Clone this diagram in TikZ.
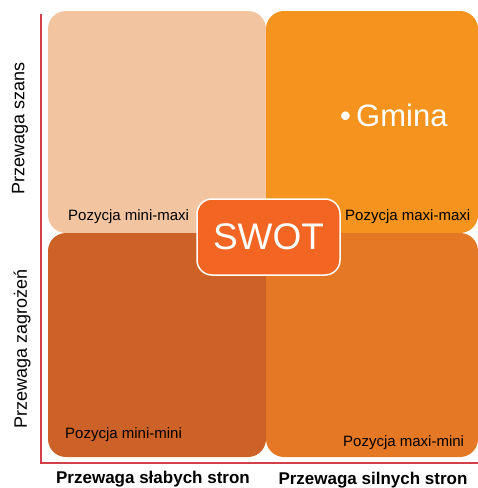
\documentclass[tikz,border=0pt]{standalone}
\usepackage{fontspec}
\setmainfont{Liberation Sans}
\definecolor{qTL}{HTML}{F3C4A0}
\definecolor{qTR}{HTML}{F4941E}
\definecolor{qBL}{HTML}{CC6228}
\definecolor{qBR}{HTML}{E57824}
\definecolor{swotc}{HTML}{F26522}
\definecolor{axisc}{HTML}{D4404A}
\tikzset{
  quad/.style={rectangle, rounded corners=18pt, draw=none, inner sep=0pt},
  poz/.style={inner sep=0pt, font=\fontsize{15}{17}\selectfont, text=black},
  sidelab/.style={inner sep=0pt, font=\fontsize{18}{20}\selectfont, text=black, rotate=90},
  botlab/.style={inner sep=0pt, font=\bfseries\fontsize{17}{19}\selectfont, text=black},
  axisline/.style={draw=axisc, line width=2pt}
}
\begin{document}
\begin{tikzpicture}[x=1pt,y=-1pt]
\useasboundingbox (0,0) rectangle (478,488);
% quadrants
\node[quad, fill=qTL, minimum width=218pt, minimum height=222pt] (tl) at (157,122) {};
\node[quad, fill=qTR, minimum width=212pt, minimum height=222pt] (tr) at (372,122) {};
\node[quad, fill=qBL, minimum width=218pt, minimum height=224pt] (bl) at (157,345) {};
\node[quad, fill=qBR, minimum width=212pt, minimum height=224pt] (br) at (372,345) {};
% axes
\coordinate (ytop) at (41,14);
\coordinate (orig) at (41,463);
\coordinate (xend) at (478,463);
\draw[axisline] (ytop) -- (orig) -- (xend);
% quadrant labels
\node[poz, anchor=west] (lmm) at (68,217) {Pozycja mini-maxi};
\node[poz, anchor=west] (lMM) at (345,217) {Pozycja maxi-maxi};
\node[poz, anchor=west] (lmn) at (65,435) {Pozycja mini-mini};
\node[poz, anchor=west] (lMn) at (343,443) {Pozycja maxi-mini};
% Gmina
\node[inner sep=0pt, text=white, font=\fontsize{31}{34}\selectfont, anchor=west] (gmina) at (340,115) {\textbullet\,Gmina};
% SWOT box
\node[rectangle, rounded corners=15pt, fill=swotc, draw=white, line width=1.5pt,
      minimum width=143pt, minimum height=76pt, inner sep=0pt,
      text=white, font=\fontsize{37}{40}\selectfont] (swot) at (268.5,237) {SWOT};
% axis labels
\node[sidelab] (szans) at (20,128) {Przewaga szans};
\node[sidelab] (zagr) at (22,349) {Przewaga zagrożeń};
\node[botlab] (slab) at (153,479) {Przewaga słabych stron};
\node[botlab] (siln) at (373,480) {Przewaga silnych stron};
\end{tikzpicture}
\end{document}
